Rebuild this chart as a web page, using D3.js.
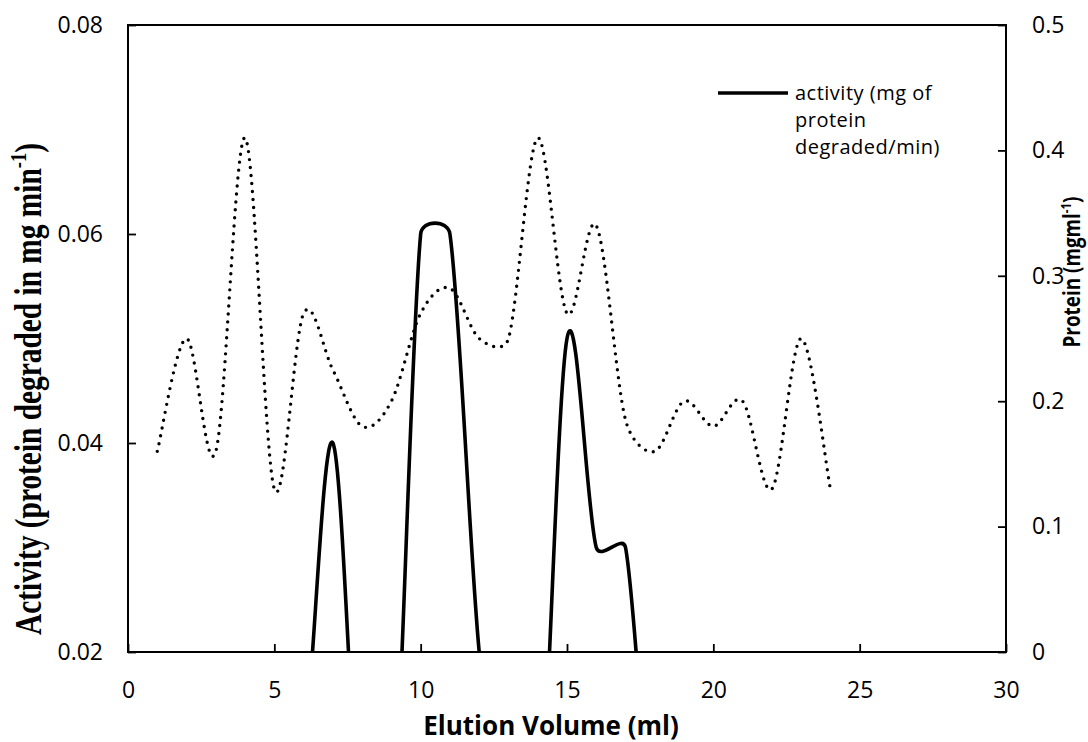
<!DOCTYPE html>
<html>
<head>
<meta charset="utf-8">
<script src="https://cdn.jsdelivr.net/npm/d3@7"></script>
<style>
  body { margin: 0; background: #fff; }
  svg text { font-family: "Open Sans", sans-serif; fill: #000; }
</style>
</head>
<body>
<svg id="chart" width="1088" height="742"></svg>
<script>
const elution = [1, 2, 3, 4, 5, 6, 7, 8, 9, 10, 11, 12, 13, 14, 15, 16, 17, 18, 19, 20, 21, 22, 23, 24];
const activity = [0, 0, 0, 0, 0, 0.01, 0.04, 0, 0, 0.06, 0.06, 0.02, 0, 0, 0.05, 0.03, 0.03, 0, 0, 0, 0, 0, 0, 0];
const protein = [0.16, 0.25, 0.16, 0.41, 0.13, 0.27, 0.225, 0.18, 0.2, 0.27, 0.29, 0.25, 0.25, 0.41, 0.27, 0.34, 0.185, 0.16, 0.2, 0.18, 0.2, 0.13, 0.25, 0.13];
const xTicks = [0, 5, 10, 15, 20, 25, 30];
const activityTicks = [0.02, 0.04, 0.06, 0.08];
const proteinTicks = [0, 0.1, 0.2, 0.3, 0.4, 0.5];

const plot = {left: 128, right: 1006, top: 25, bottom: 652};

const svg = d3.select("#chart");

const x = d3.scaleLinear().domain([0, 30]).range([plot.left, plot.right]);
const yAct = d3.scaleLinear().domain([0.02, 0.08]).range([plot.bottom, plot.top]);
const yProt = d3.scaleLinear().domain([0, 0.5]).range([plot.bottom, plot.top]);

svg.append("clipPath").attr("id", "plotClip")
  .append("rect")
  .attr("x", plot.left).attr("y", plot.top)
  .attr("width", plot.right - plot.left).attr("height", plot.bottom - plot.top);

// spreadsheet style smoothing: bezier with control points limited to half the segment
function smoothPath(pts) {
  const p = d3.path();
  p.moveTo(pts[0][0], pts[0][1]);
  for (let i = 0; i < pts.length - 1; i++) {
    const p0 = pts[Math.max(i - 1, 0)], p1 = pts[i], p2 = pts[i + 1], p3 = pts[Math.min(i + 2, pts.length - 1)];
    const d12 = Math.hypot(p2[0] - p1[0], p2[1] - p1[1]);
    const d02 = Math.hypot(p2[0] - p0[0], p2[1] - p0[1]);
    const d13 = Math.hypot(p3[0] - p1[0], p3[1] - p1[1]);
    const f1 = d02 > 0 ? Math.min(1 / 6, d12 / (2 * d02)) : 0;
    const f2 = d13 > 0 ? Math.min(1 / 6, d12 / (2 * d13)) : 0;
    p.bezierCurveTo(
      p1[0] + (p2[0] - p0[0]) * f1, p1[1] + (p2[1] - p0[1]) * f1,
      p2[0] - (p3[0] - p1[0]) * f2, p2[1] - (p3[1] - p1[1]) * f2,
      p2[0], p2[1]);
  }
  return p.toString();
}

// axes, ticks inside
function styleAxis(g, size) {
  g.select(".domain").remove();
  g.selectAll(".tick line").attr("stroke", "#000").attr("stroke-width", 1.8);
  g.selectAll(".tick text").style("font-size", size + "px").attr("fill", "#000");
}

svg.append("g")
  .attr("transform", "translate(0," + plot.bottom + ")")
  .call(d3.axisBottom(x).tickValues(xTicks).tickSize(-8).tickPadding(30).tickFormat(d3.format("d")))
  .call(g => styleAxis(g, 23));

svg.append("g")
  .attr("transform", "translate(" + plot.left + ",0)")
  .call(d3.axisLeft(yAct).tickValues(activityTicks).tickSize(-8).tickPadding(25).tickFormat(d3.format(".2f")))
  .call(g => styleAxis(g, 23));

svg.append("g")
  .attr("transform", "translate(" + plot.right + ",0)")
  .call(d3.axisRight(yProt).tickValues(proteinTicks).tickSize(-8).tickPadding(26).tickFormat(d => d === 0 ? "0" : d3.format(".1f")(d)))
  .call(g => styleAxis(g, 23));

svg.append("rect")
  .attr("x", plot.left).attr("y", plot.top)
  .attr("width", plot.right - plot.left).attr("height", plot.bottom - plot.top)
  .attr("fill", "none").attr("stroke", "#000").attr("stroke-width", 2);

// series
const proteinPts = elution.map((e, i) => [x(e), yProt(protein[i])]);
const activityPts = elution.map((e, i) => [x(e), yAct(activity[i])]);

svg.append("path")
  .attr("d", smoothPath(proteinPts))
  .attr("fill", "none")
  .attr("stroke", "#000")
  .attr("stroke-width", 3.4)
  .attr("stroke-linecap", "round")
  .attr("stroke-dasharray", "0,8");

svg.append("path")
  .attr("clip-path", "url(#plotClip)")
  .attr("d", smoothPath(activityPts))
  .attr("fill", "none")
  .attr("stroke", "#000")
  .attr("stroke-width", 3.6)
  .attr("stroke-linejoin", "round");

// legend
const legend = svg.append("g").attr("transform", "translate(718,93)");
legend.append("line")
  .attr("x1", 0).attr("x2", 70).attr("y1", 0).attr("y2", 0)
  .attr("stroke", "#000").attr("stroke-width", 3.6);
const legendLines = ["activity (mg of", "protein", "degraded/min)"];
legend.append("text")
  .attr("y", 7)
  .style("font-size", "20px")
  .style("letter-spacing", "0.5px")
  .selectAll("tspan")
  .data(legendLines)
  .enter().append("tspan")
  .attr("x", 77)
  .attr("dy", (d, i) => i === 0 ? 0 : 27)
  .text(d => d);

// axis titles
svg.append("text")
  .attr("x", 551).attr("y", 735)
  .attr("text-anchor", "middle")
  .style("font-size", "26px").style("font-weight", "bold")
  .text("Elution Volume (ml)");

const leftTitle = svg.append("text")
  .attr("transform", "translate(41,389) rotate(-90)")
  .attr("text-anchor", "middle")
  .attr("textLength", 492)
  .attr("lengthAdjust", "spacingAndGlyphs")
  .style("font-family", "'Liberation Serif', 'Times New Roman', serif")
  .style("font-size", "38px").style("font-weight", "bold");
leftTitle.append("tspan").text("Activity (protein degraded in mg min");
leftTitle.append("tspan").attr("dy", -15).style("font-size", "24px").text("-1");
leftTitle.append("tspan").attr("dy", 15).text(")");

const rightTitle = svg.append("text")
  .attr("transform", "translate(1080,272) rotate(-90)")
  .attr("text-anchor", "middle")
  .attr("textLength", 151)
  .attr("lengthAdjust", "spacingAndGlyphs")
  .style("font-size", "23px").style("font-weight", "bold");
rightTitle.append("tspan").text("Protein (mgml");
rightTitle.append("tspan").attr("dy", -9).style("font-size", "14px").text("-1");
rightTitle.append("tspan").attr("dy", 9).text(")");
</script>
</body>
</html>
